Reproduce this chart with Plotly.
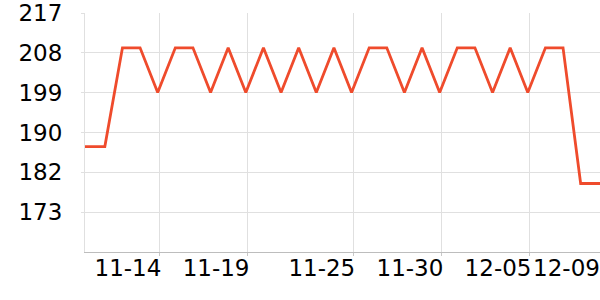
import plotly.graph_objects as go

# Data
dates = [
    "2023-11-09 19:00", "2023-11-10 22:00", "2023-11-11 22:00", "2023-11-12 22:00",
    "2023-11-13 22:00", "2023-11-14 22:00", "2023-11-15 22:00", "2023-11-16 22:00",
    "2023-11-17 22:00", "2023-11-18 22:00", "2023-11-19 22:00", "2023-11-20 22:00",
    "2023-11-21 22:00", "2023-11-22 22:00", "2023-11-23 22:00", "2023-11-24 22:00",
    "2023-11-25 22:00", "2023-11-26 22:00", "2023-11-27 22:00", "2023-11-28 22:00",
    "2023-11-29 22:00", "2023-11-30 22:00", "2023-12-01 22:00", "2023-12-02 22:00",
    "2023-12-03 22:00", "2023-12-04 22:00", "2023-12-05 22:00", "2023-12-06 22:00",
    "2023-12-07 22:00", "2023-12-09 00:20",
]
values = [
    187.4, 187.4, 209.3, 209.3, 199.4, 209.3, 209.3, 199.4, 209.3, 199.4,
    209.3, 199.4, 209.3, 199.4, 209.3, 199.4, 209.3, 209.3, 199.4, 209.3,
    199.4, 209.3, 209.3, 199.4, 209.3, 199.4, 209.3, 209.3, 179.2, 179.2,
]

x_tick_values = ["2023-11-14", "2023-11-19", "2023-11-25", "2023-11-30", "2023-12-05"]
x_tick_labels = ["11-14", "11-19", "11-25", "11-30", "12-05", "12-09"]
# label anchors sit a few hours right of the grid ticks so text ends on the grid line
x_label_anchor = ["2023-11-14 03:00", "2023-11-19 03:00", "2023-11-25 03:00",
                  "2023-11-30 03:00", "2023-12-05 03:00", "2023-12-09 00:15"]
x_range = ["2023-11-09 19:00", "2023-12-09 00:20"]

y_tick_values = [172.83, 181.67, 190.5, 199.33, 208.17, 217]
y_tick_labels = ["173", "182", "190", "199", "208", "217"]
y_range = [164, 217.03]

LINE_COLOR = "#ef4b2c"
GRID = "#e0e0e0"
FONT = dict(family="DejaVu Sans", size=23, color="#000000")

fig = go.Figure()
fig.add_trace(go.Scatter(
    x=dates, y=values, mode="lines",
    line=dict(color=LINE_COLOR, width=2.8),
    hoverinfo="skip",
))
# invisible carrier so the label axis is drawn
fig.add_trace(go.Scatter(
    x=dates, y=values, mode="lines", xaxis="x2",
    line=dict(color="rgba(0,0,0,0)", width=0),
    hoverinfo="skip", showlegend=False,
))

fig.update_layout(
    width=600, height=300,
    margin=dict(l=85, r=0, t=10, b=48, pad=0),
    paper_bgcolor="white", plot_bgcolor="white",
    showlegend=False,
    xaxis=dict(
        type="date", range=x_range,
        tickmode="array", tickvals=x_tick_values,
        showticklabels=False,
        showgrid=True, gridcolor=GRID, gridwidth=1,
        ticks="outside", ticklen=3, tickcolor="#c8c8c8",
        showline=True, linecolor="#bdbdbd", linewidth=1,
        zeroline=False,
    ),
    xaxis2=dict(
        type="date", range=x_range, overlaying="x", side="bottom", anchor="y",
        tickmode="array", tickvals=x_label_anchor, ticktext=x_tick_labels,
        showgrid=False, showline=False, zeroline=False, ticks="",
        tickangle=0, ticklabelposition="outside left", ticklabeloverflow="allow",
        tickfont=FONT,
    ),
    yaxis=dict(
        range=y_range,
        tickmode="array", tickvals=y_tick_values, ticktext=y_tick_labels,
        showgrid=True, gridcolor=GRID, gridwidth=1,
        ticks="outside", ticklen=3, tickcolor=GRID,
        showline=True, linecolor=GRID, linewidth=1,
        zeroline=False,
        ticklabelstandoff=14,
        ticklabeloverflow="allow",
        tickfont=FONT,
    ),
)

fig.write_html("out.html")
